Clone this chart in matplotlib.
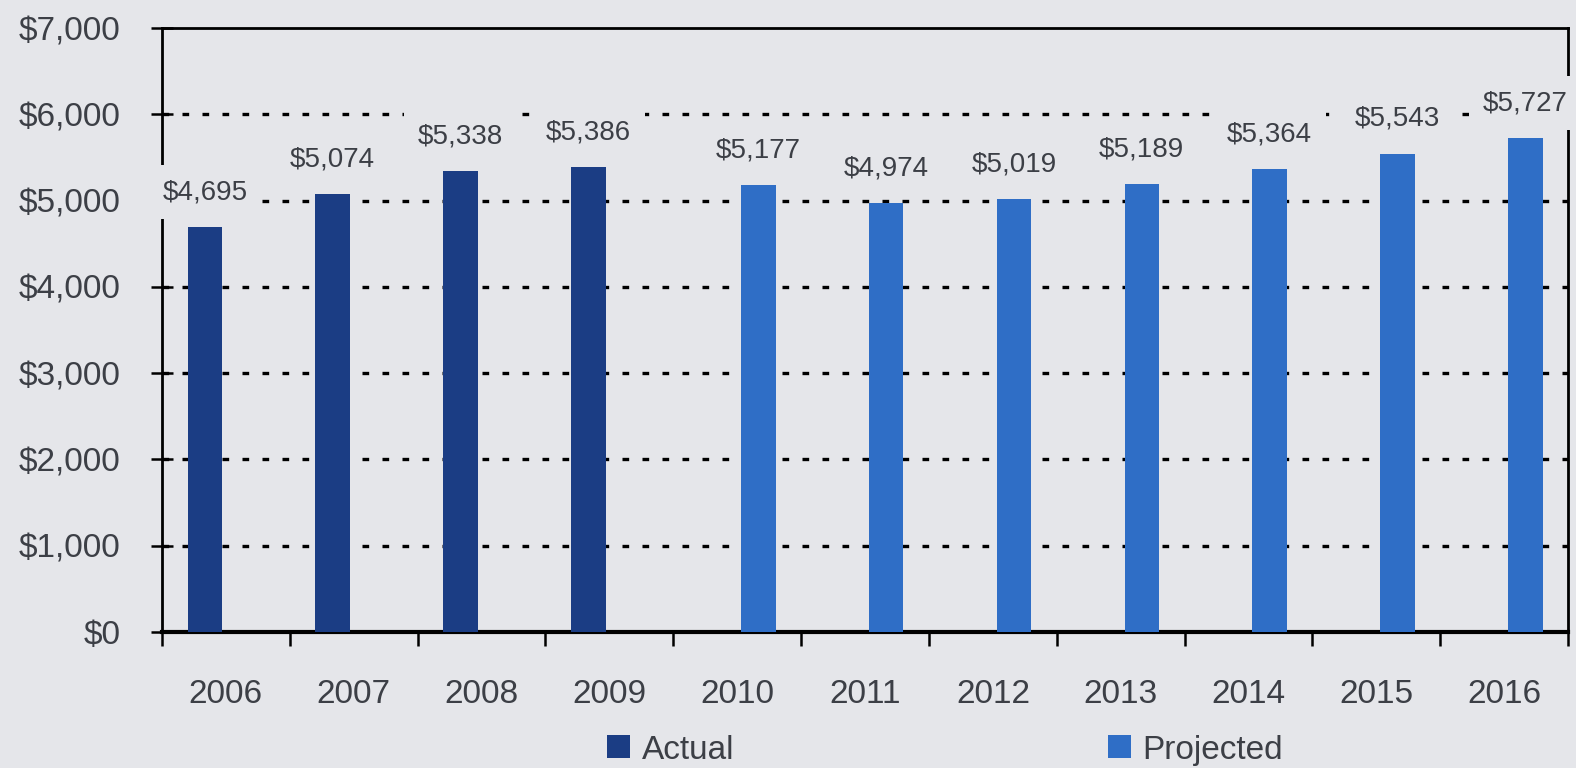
import numpy as np
import matplotlib.pyplot as plt
from matplotlib.ticker import FuncFormatter, FixedLocator

years = ["2006", "2007", "2008", "2009", "2010", "2011",
         "2012", "2013", "2014", "2015", "2016"]
actual = [4695, 5074, 5338, 5386]
projected = [5177, 4974, 5019, 5189, 5364, 5543, 5727]

bg = "#e5e6ea"
navy = "#1b3d84"
blue = "#2f6ec6"
txt = "#3c3f46"

plt.rcParams["font.family"] = ["Liberation Sans", "DejaVu Sans"]

fig = plt.figure(figsize=(15.76, 7.68), dpi=100, facecolor=bg)
ax = fig.add_axes([0.1028, 0.177, 0.8922, 0.7865])
ax.set_facecolor(bg)

x = np.arange(len(years))
w = 0.27
off = 0.165
xa = x[:len(actual)] - off
xp = x[len(actual):] + off

ax.bar(xa, actual, width=w, color=navy, label="Actual", zorder=3)
ax.bar(xp, projected, width=w, color=blue, label="Projected", zorder=3)

# value labels, boxed in the background colour so they break gridlines
for xs, vals in ((xa, actual), (xp, projected)):
    for xi, v in zip(xs, vals):
        ax.annotate(f"${v:,}", (xi, v), xytext=(0, 20), textcoords="offset points",
                    ha="center", va="baseline", fontsize=20, color=txt,
                    bbox=dict(boxstyle="square,pad=0.5", fc=bg, ec="none"),
                    zorder=6, annotation_clip=False)

ax.set_ylim(0, 7000)
ax.set_xlim(-0.5, len(years) - 0.5)

ax.set_yticks(np.arange(0, 7001, 1000))
ax.yaxis.set_major_formatter(FuncFormatter(lambda v, p: f"${int(v):,}"))
ax.tick_params(axis="y", direction="inout", length=16, width=1.8, pad=22,
               labelsize=24, labelcolor=txt, color="black")

ax.set_xticks(x)
ax.set_xticklabels(years)
ax.xaxis.set_minor_locator(FixedLocator(np.arange(-0.5, len(years), 1.0)))
ax.tick_params(axis="x", which="major", length=0, pad=34, labelsize=24, labelcolor=txt)
ax.tick_params(axis="x", which="minor", direction="out", length=10, width=1.8, color="black")

for y in range(1000, 7000, 1000):
    ax.axhline(y, color="black", lw=2.4, ls=(0, (2, 4)), zorder=1)

for side in ["left", "right", "top"]:
    ax.spines[side].set_linewidth(2)
    ax.spines[side].set_color("black")
ax.spines["bottom"].set_linewidth(3)

fig.legend(loc="center", bbox_to_anchor=(0.5996, 0.0234), ncol=2, frameon=False,
           fontsize=24, handlelength=0.69, handleheight=0.69, handletextpad=0.36,
           columnspacing=11.2, labelcolor=txt)

fig.savefig("out.png", dpi=100, facecolor=bg)
